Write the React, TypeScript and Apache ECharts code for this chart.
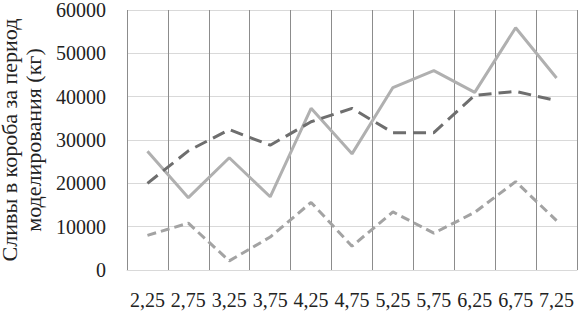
import React, { useEffect, useRef } from "react";
import * as echarts from "echarts";

const categories = ["2,25", "2,75", "3,25", "3,75", "4,25", "4,75", "5,25", "5,75", "6,25", "6,75", "7,25"];
const seriesSolid = [27400, 16700, 25900, 16900, 37300, 26800, 42100, 46000, 41000, 55900, 44300];
const seriesDarkDash = [20000, 27500, 32400, 28800, 34200, 37300, 31700, 31700, 40300, 41200, 39100];
const seriesLightDash = [8000, 10800, 2100, 7600, 15600, 5500, 13400, 8500, 13300, 20400, 11400];
const yTitle = "Сливы в короба за период\nмоделирования (кг)";

export default function App() {
  const ref = useRef<HTMLDivElement>(null);
  useEffect(() => {
    if (!ref.current) return;
    const chart = echarts.init(ref.current, null, { renderer: "svg" });
    const font = "Liberation Serif";
    chart.setOption({
      animation: false,
      textStyle: { fontFamily: font },
      grid: { left: 127, right: 1, top: 10, bottom: 42, containLabel: false, outerBoundsMode: "none" },
      xAxis: {
        type: "category",
        data: categories,
        boundaryGap: true,
        axisLine: { show: true, lineStyle: { color: "#d9d9d9", width: 1 } },
        axisTick: { show: false },
        axisLabel: { color: "#222", fontFamily: font, fontSize: 20, margin: 20, interval: 0 },
        splitLine: { show: true, lineStyle: { color: "#8c8c8c", width: 1 } },
      },
      yAxis: {
        type: "value",
        min: 0,
        max: 60000,
        interval: 10000,
        name: yTitle,
        nameLocation: "middle",
        nameGap: 70,
        nameTextStyle: { color: "#222", fontFamily: font, fontSize: 22, lineHeight: 24 },
        axisLine: { show: false },
        axisTick: { show: false },
        axisLabel: { color: "#222", fontFamily: font, fontSize: 20, lineHeight: 20, margin: 21, formatter: (v: number) => String(v) },
        splitLine: { show: true, lineStyle: { color: "#d9d9d9", width: 1 } },
      },
      series: [
        {
          type: "line",
          data: seriesSolid,
          symbol: "none",
          lineStyle: { color: "#b0b0b0", width: 3, type: "solid" },
        },
        {
          type: "line",
          data: seriesDarkDash,
          symbol: "none",
          lineStyle: { color: "#6e6e6e", width: 3, type: [13, 7] },
        },
        {
          type: "line",
          data: seriesLightDash,
          symbol: "none",
          lineStyle: { color: "#a3a3a3", width: 3, type: [9, 5] },
        },
      ],
    });
    return () => chart.dispose();
  }, []);
  return <div ref={ref} style={{ width: 578, height: 312, position: "absolute", left: 0, top: 0 }} />;
}
